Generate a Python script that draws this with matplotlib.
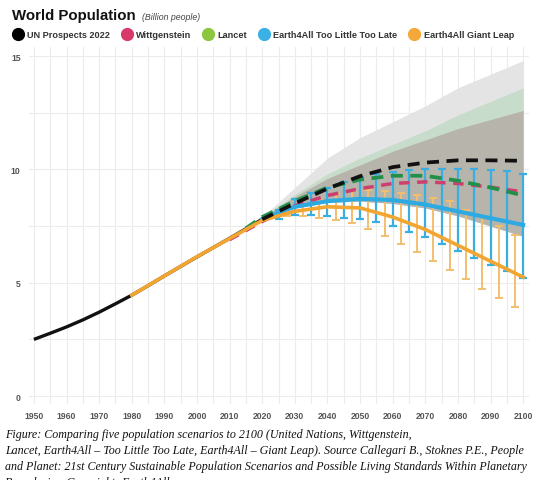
"""World Population scenarios to 2100 (UN, Wittgenstein, Lancet, Earth4All)."""
import matplotlib

matplotlib.use("Agg")
import matplotlib.pyplot as plt
from matplotlib.lines import Line2D
from matplotlib.ticker import MultipleLocator

# --- data (billion people) ---
hist_years = [1950, 1955, 1960, 1965, 1970, 1975, 1980, 1985, 1990, 1995, 2000, 2005, 2010, 2015, 2020, 2022]
hist_pop = [2.5, 2.77, 3.05, 3.36, 3.7, 4.07, 4.45, 4.87, 5.3, 5.72, 6.14, 6.55, 6.96, 7.38, 7.8, 7.95]

proj_years = [2020, 2030, 2040, 2050, 2060, 2070, 2080, 2090, 2100]
un_proj = [7.8, 8.5, 9.15, 9.7, 10.1, 10.3, 10.4, 10.4, 10.38]
witt_years = [2010, 2020, 2030, 2040, 2050, 2060, 2070, 2080, 2090, 2100]
witt_proj = [6.9, 7.7, 8.4, 8.85, 9.15, 9.38, 9.45, 9.38, 9.22, 9.0]
lancet_years = [2015, 2020, 2030, 2040, 2050, 2060, 2070, 2080, 2090, 2100]
lancet_proj = [7.4, 7.9, 8.6, 9.2, 9.55, 9.72, 9.72, 9.5, 9.2, 8.85]

tltl_years = [2020, 2025, 2030, 2040, 2050, 2060, 2070, 2080, 2090, 2100]
tltl_proj = [7.8, 8.1, 8.35, 8.6, 8.7, 8.65, 8.45, 8.15, 7.85, 7.55]
gl_years = [1980, 1990, 2000, 2010, 2020, 2030, 2040, 2050, 2060, 2070, 2080, 2090, 2100]
gl_proj = [4.45, 5.3, 6.15, 6.95, 7.75, 8.15, 8.35, 8.3, 7.9, 7.35, 6.65, 5.95, 5.25]

# error bars
tltl_bar_years = [2025, 2030, 2035, 2040, 2045, 2050, 2055, 2060, 2065, 2070, 2075, 2080, 2085, 2090, 2095, 2100]
tltl_bar_hi = [8.2, 8.7, 8.95, 9.2, 9.45, 9.65, 9.8, 9.9, 9.97, 10.0, 10.0, 10.0, 10.0, 9.97, 9.95, 9.8]
tltl_bar_lo = [7.8, 8.0, 8.0, 7.95, 7.85, 7.8, 7.7, 7.5, 7.25, 7.0, 6.7, 6.4, 6.1, 5.8, 5.5, 5.2]
gl_bar_years = [2027.5, 2032.5, 2037.5, 2042.5, 2047.5, 2052.5, 2057.5, 2062.5, 2067.5, 2072.5, 2077.5, 2082.5, 2087.5, 2092.5, 2097.5]
gl_bar_hi = [8.1, 8.4, 8.65, 8.9, 9.05, 9.1, 9.05, 8.95, 8.85, 8.75, 8.6, 8.2, 7.9, 7.5, 7.1]
gl_bar_lo = [7.95, 7.93, 7.87, 7.76, 7.65, 7.39, 7.07, 6.72, 6.36, 5.94, 5.55, 5.15, 4.73, 4.33, 3.95]

# uncertainty bands
band_years = [2020, 2030, 2040, 2050, 2060, 2070, 2080, 2090, 2100]
band_lo = [7.8, 8.3, 8.55, 8.6, 8.5, 8.3, 7.95, 7.5, 7.05]
band_wide_hi = [7.9, 9.2, 10.5, 11.4, 12.1, 12.8, 13.6, 14.2, 14.8]
band_lancet_hi = [7.9, 8.9, 9.8, 10.5, 11.1, 11.7, 12.4, 13.0, 13.6]
band_un_hi = [7.9, 8.8, 9.6, 10.2, 10.8, 11.3, 11.8, 12.2, 12.6]

legend_labels = ["UN Prospects 2022", "Wittgenstein", "Lancet",
                 "Earth4All Too Little Too Late", "Earth4All Giant Leap"]
legend_colors = ["#000000", "#d6396a", "#8cc63f", "#3bb0e4", "#f4a83a"]

x_ticks = list(range(1950, 2101, 10))
y_ticks = [0, 5, 10, 15]

caption = ("Figure: Comparing five population scenarios to 2100 (United Nations, Wittgenstein,\n"
           "Lancet, Earth4All \u2013 Too Little Too Late, Earth4All \u2013 Giant Leap). Source Callegari B., Stoknes P.E., People\n"
           "and Planet: 21st Century Sustainable Population Scenarios and Possible Living Standards Within Planetary\n"
           "Boundaries. Copyright: Earth4All")

BLACK, PINK, GREEN_L, BLUE, ORANGE = "#111111", "#cc3f6e", "#22904a", "#2eaae2", "#f2a531"
ORANGE_BAR, BLUE_BAR = "#f3be6e", "#3aaee0"

fig = plt.figure(figsize=(5.4, 4.81), dpi=100)
ax = fig.add_axes([29 / 540, 76 / 481, 500 / 540, 357 / 481])
ax.set_xlim(1948.5, 2101.8)
ax.set_ylim(-0.35, 15.4)

ax.xaxis.set_major_locator(MultipleLocator(10))
ax.xaxis.set_minor_locator(MultipleLocator(5))
ax.yaxis.set_major_locator(MultipleLocator(5))
ax.yaxis.set_minor_locator(MultipleLocator(2.5))
ax.set_xticks(x_ticks)
ax.set_yticks(y_ticks)
ax.grid(True, which="both", color="#ececec", lw=0.8)
ax.set_axisbelow(True)
for s in ax.spines.values():
    s.set_visible(False)
ax.tick_params(which="both", length=0, labelsize=6.2, labelcolor="#555555")
ax.tick_params(axis="x", pad=5)
ax.tick_params(axis="y", pad=6)
for lab in ax.get_xticklabels() + ax.get_yticklabels():
    lab.set_fontweight("bold")
    lab.set_family("Liberation Sans")

# bands
ax.fill_between(band_years, band_lo, band_wide_hi, color="#e2e2e2", lw=0, alpha=0.9, zorder=1)
ax.fill_between(band_years, band_lo, band_lancet_hi, color="#c6dcc9", lw=0, alpha=0.95, zorder=1.1)
ax.fill_between(band_years, band_lo, band_un_hi, color="#b7b2aa", lw=0, alpha=0.95, zorder=1.2)

# error bars
ax.errorbar(gl_bar_years, [(h + l) / 2 for h, l in zip(gl_bar_hi, gl_bar_lo)],
            yerr=[[(h - l) / 2 for h, l in zip(gl_bar_hi, gl_bar_lo)]] * 2,
            fmt="none", ecolor=ORANGE_BAR, elinewidth=1.4, capsize=3, capthick=1.4, zorder=2)
ax.errorbar(tltl_bar_years, [(h + l) / 2 for h, l in zip(tltl_bar_hi, tltl_bar_lo)],
            yerr=[[(h - l) / 2 for h, l in zip(tltl_bar_hi, tltl_bar_lo)]] * 2,
            fmt="none", ecolor=BLUE_BAR, elinewidth=1.6, capsize=3, capthick=1.6, zorder=2.1)

# lines
ax.plot(hist_years, hist_pop, color=BLACK, lw=2.4, solid_capstyle="butt", zorder=3)
ax.plot(gl_years, gl_proj, color=ORANGE, lw=2.6, zorder=3.5)
ax.plot(tltl_years, tltl_proj, color=BLUE, lw=3.0, zorder=3.4)
ax.plot(witt_years, witt_proj, color=PINK, lw=2.5, dashes=(3, 2.2), zorder=3.2)
ax.plot(lancet_years, lancet_proj, color=GREEN_L, lw=2.7, dashes=(3.2, 2.0), zorder=3.3)
ax.plot(proj_years, un_proj, color=BLACK, lw=2.7, dashes=(3.2, 2.0), zorder=3.6)

# title
fig.text(12 / 540, 1 - 16 / 481, "World Population", family="Liberation Sans",
         fontweight="bold", fontsize=10.8, va="center", ha="left", color="#111111")
fig.text(142 / 540, 1 - 17 / 481, "(Billion people)", family="Liberation Sans",
         style="italic", fontsize=6.3, va="center", ha="left", color="#444444")

# legend
handles = [Line2D([], [], ls="none", marker="o", ms=8.5, mfc=c, mec=c) for c in legend_colors]
leg = fig.legend(handles, legend_labels, ncol=5, loc="center left",
                 bbox_to_anchor=(13 / 540, 1 - 36 / 481), frameon=False,
                 handletextpad=0.45, columnspacing=1.3, handlelength=1.1, borderaxespad=0,
                 borderpad=0, prop={"family": "Liberation Sans", "weight": "bold", "size": 6.6})
for t in leg.get_texts():
    t.set_color("#333333")

# caption (last line runs off the bottom edge, as in the source image)
fig.text(5 / 540, 1 - 429 / 481, caption, family="Liberation Serif", style="italic",
         fontsize=8.65, va="top", ha="left", color="#111111", linespacing=1.44)

fig.savefig("out.png", dpi=100)
